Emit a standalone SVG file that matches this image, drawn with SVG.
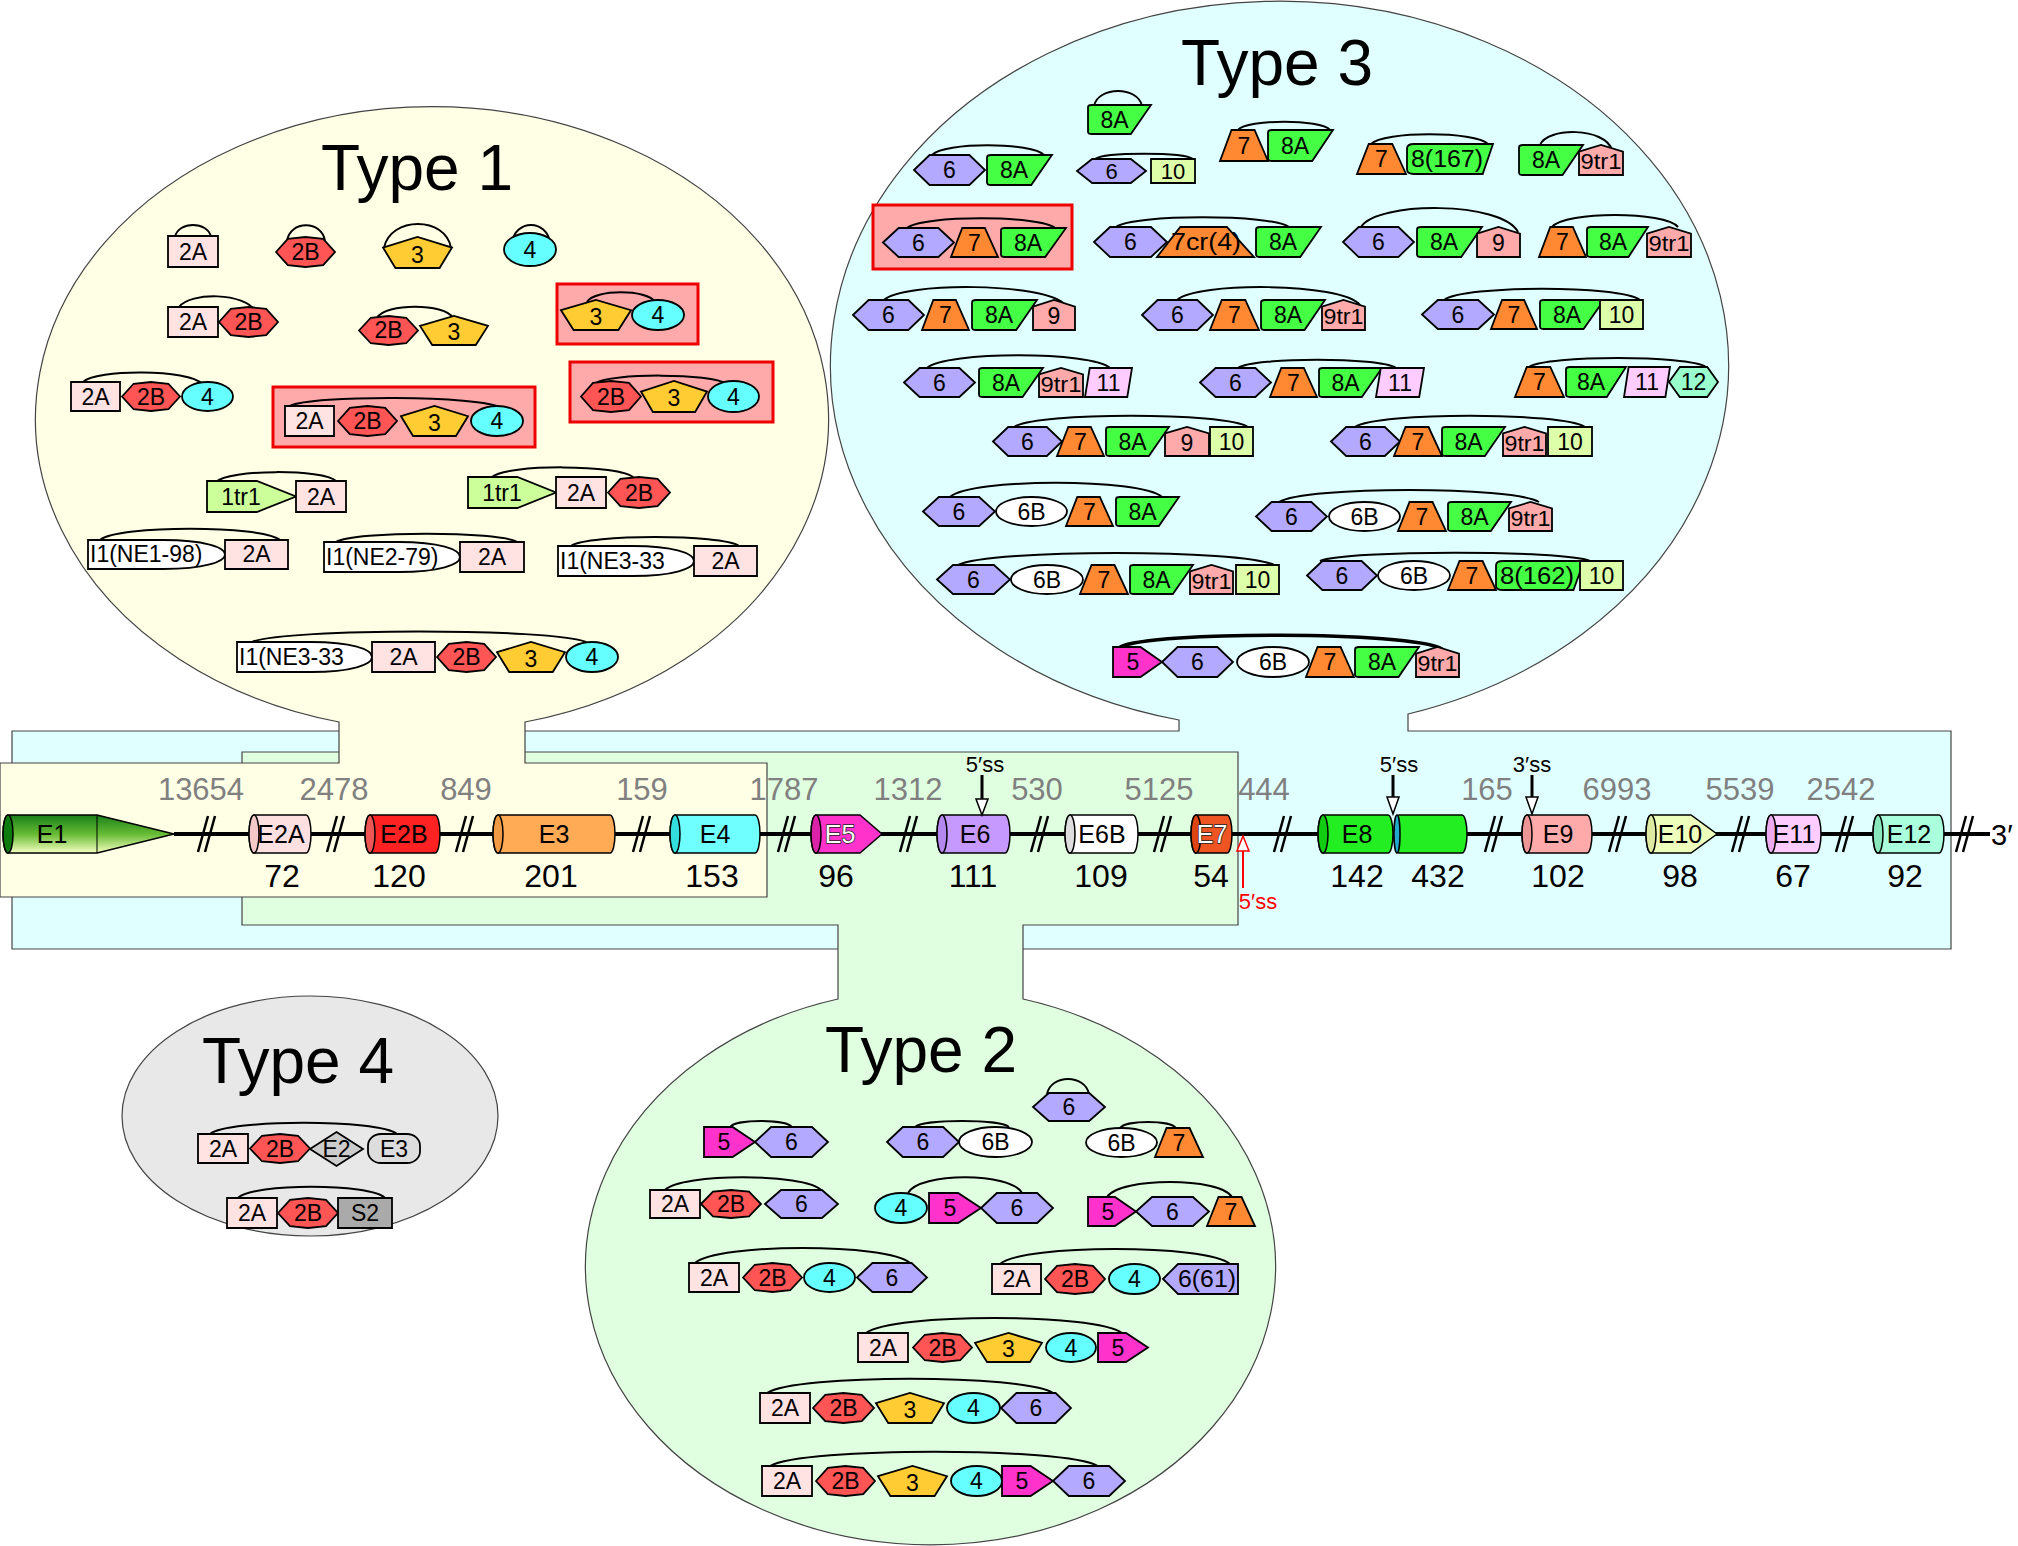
<svg xmlns="http://www.w3.org/2000/svg" xmlns:xlink="http://www.w3.org/1999/xlink" width="2018" height="1546" viewBox="0 0 2018 1546">
<style>
text{font-family:"Liberation Sans",Arial,sans-serif;text-anchor:middle;fill:#000}
.t{font-size:23px}
.sm{font-size:22px}
.xs{font-size:22px}
.title{font-size:64px}
.gn{font-size:31px;fill:#808080}
.bn{font-size:32px}
.el{font-size:25px}
.ss{font-size:22px}
.wl{fill:#fff;stroke:#222;stroke-width:1.4px;paint-order:stroke}
use{stroke:#000;stroke-width:1.8}
.c2A{fill:#ffe2e2}.c2B{fill:#ff5555}.c3{fill:#ffcc33}.c4{fill:#66ffff}.c5{fill:#ff33cc}.c6{fill:#b3aaff}.c6B{fill:#fff}.c7{fill:#ff8833}.c8{fill:#44ff44}.c9{fill:#ffaaaa}.c10{fill:#ddffaa}.c11{fill:#ffccff}.c12{fill:#99ffcc}.c1t{fill:#ccff99}.cI{fill:#fff}.cE2{fill:#cccccc}.cE3{fill:#dddddd}.cS2{fill:#aaaaaa}
.rb{fill:#ffaaaa;stroke:#e00;stroke-width:3}
.bub{stroke:#444;stroke-width:1.2}
.arc{fill:none;stroke:#000;stroke-width:2}
.ex{stroke:#000;stroke-width:1.5}
.brk{stroke:#000;stroke-width:2.5}
</style>
<defs>
<linearGradient id="gE1" x1="0" y1="0" x2="0" y2="1"><stop offset="0" stop-color="#1a7f1a"/><stop offset="0.5" stop-color="#66bb33"/><stop offset="1" stop-color="#f4ffc0"/></linearGradient>
<symbol id="sR" viewBox="0 0 100 100" preserveAspectRatio="none" overflow="visible"><rect width="100" height="100" vector-effect="non-scaling-stroke"/></symbol>
<symbol id="sOct" viewBox="0 0 100 100" preserveAspectRatio="none" overflow="visible"><polygon points="0,50 20,6 50,0 80,6 100,50 80,94 50,100 20,94" vector-effect="non-scaling-stroke"/></symbol>
<symbol id="sPent" viewBox="0 0 100 100" preserveAspectRatio="none" overflow="visible"><polygon points="0,34 50,0 100,34 82,100 18,100" vector-effect="non-scaling-stroke"/></symbol>
<symbol id="sEll" viewBox="0 0 100 100" preserveAspectRatio="none" overflow="visible"><ellipse cx="50" cy="50" rx="50" ry="50" vector-effect="non-scaling-stroke"/></symbol>
<symbol id="sArr" viewBox="0 0 100 100" preserveAspectRatio="none" overflow="visible"><polygon points="0,0 56,0 100,50 56,100 0,100" vector-effect="non-scaling-stroke"/></symbol>
<symbol id="sHex" viewBox="0 0 100 100" preserveAspectRatio="none" overflow="visible"><polygon points="0,50 22,0 78,0 100,50 78,100 22,100" vector-effect="non-scaling-stroke"/></symbol>
<symbol id="sTrap" viewBox="0 0 100 100" preserveAspectRatio="none" overflow="visible"><polygon points="24,0 72,0 100,100 0,100" vector-effect="non-scaling-stroke"/></symbol>
<symbol id="s8A" viewBox="0 0 100 100" preserveAspectRatio="none" overflow="visible"><path d="M6,0 H100 L68,100 H6 Q0,100 0,92 V8 Q0,0 6,0 Z" vector-effect="non-scaling-stroke"/></symbol>
<symbol id="s8L" viewBox="0 0 100 100" preserveAspectRatio="none" overflow="visible"><path d="M8,0 H100 L88,100 H8 Q0,100 0,85 V15 Q0,0 8,0 Z" vector-effect="non-scaling-stroke"/></symbol>
<symbol id="sHouse" viewBox="0 0 100 100" preserveAspectRatio="none" overflow="visible"><polygon points="0,22 50,0 100,22 100,100 0,100" vector-effect="non-scaling-stroke"/></symbol>
<symbol id="sPar" viewBox="0 0 100 100" preserveAspectRatio="none" overflow="visible"><polygon points="10,0 100,0 90,100 0,100" vector-effect="non-scaling-stroke"/></symbol>
<symbol id="sI1" viewBox="0 0 100 100" preserveAspectRatio="none" overflow="visible"><path d="M0,0 H55 C85,0 100,25 100,50 C100,75 85,100 55,100 H0 Z" vector-effect="non-scaling-stroke"/></symbol>
<symbol id="s6L" viewBox="0 0 100 100" preserveAspectRatio="none" overflow="visible"><polygon points="0,50 20,0 100,0 100,100 20,100" vector-effect="non-scaling-stroke"/></symbol>
<symbol id="sDia" viewBox="0 0 100 100" preserveAspectRatio="none" overflow="visible"><polygon points="50,0 100,50 50,100 0,50" vector-effect="non-scaling-stroke"/></symbol>
<symbol id="sRnd" viewBox="0 0 100 100" preserveAspectRatio="none" overflow="visible"><rect width="100" height="100" rx="25" ry="40" vector-effect="non-scaling-stroke"/></symbol>
</defs>

<rect width="2018" height="1546" fill="#fff"/>

<g id="bubbles">
<path id="type3-bg" class="bub" fill="#e0ffff" d="M12,731 H1179 V720 A449,364 0 1 1 1408,714 V731 H1951 V949 H12 Z"/>
<path id="type2-bg" class="bub" fill="#e0ffe0" d="M242,752 H1238 V925 H1023 V999 A345,278 0 1 1 838,999 V925 H242 Z"/>
<path id="type1-bg" class="bub" fill="#ffffe6" d="M0,763 H339 V722 A396.5,312 0 1 1 525,722 V763 H767 V897 H0 Z"/>
<ellipse id="type4-bg" class="bub" fill="#e8e8e8" cx="310" cy="1116" rx="188" ry="120"/>
</g>

<g id="titles">
<text class="title" x="417" y="190">Type 1</text>
<text class="title" x="1277" y="85">Type 3</text>
<text class="title" x="921" y="1072">Type 2</text>
<text class="title" x="298" y="1083">Type 4</text>
</g>

<g id="gene">
<line x1="174" y1="834" x2="1990" y2="834" stroke="#000" stroke-width="4"/>
<g id="breaks">
<path class="brk" d="M198,852 L208,816 M205,852 L215,816 M327,852 L337,816 M334,852 L344,816 M456,852 L466,816 M463,852 L473,816 M633,852 L643,816 M640,852 L650,816 M778,852 L788,816 M785,852 L795,816 M900,852 L910,816 M907,852 L917,816 M1031,852 L1041,816 M1038,852 L1048,816 M1154,852 L1164,816 M1161,852 L1171,816 M1274,852 L1284,816 M1281,852 L1291,816 M1485,852 L1495,816 M1492,852 L1502,816 M1609,852 L1619,816 M1616,852 L1626,816 M1732,852 L1742,816 M1739,852 L1749,816 M1836,852 L1846,816 M1843,852 L1853,816 M1956,852 L1966,816 M1963,852 L1973,816"/>
</g>
<g id="E1"><path class="ex" fill="url(#gE1)" d="M8,815 H97 L174,834 L97,853 H8 A5,19 0 0 1 8,815 Z"/><line x1="97" y1="815" x2="97" y2="853" stroke="#000" stroke-width="1"/><ellipse class="ex" fill="#0d7a0d" cx="8" cy="834" rx="5" ry="19"/><text class="el" x="52" y="843">E1</text></g>
<g id="E2A"><path class="ex" fill="#ffe0e0" d="M254,815 H306 A5,19 0 0 1 306,853 H254 A5,19 0 0 1 254,815 Z"/><ellipse class="ex" fill="#f5c8c8" cx="254" cy="834" rx="5" ry="19"/><text class="el" x="281" y="843">E2A</text></g>
<g id="E2B"><path class="ex" fill="#ff2222" d="M370,815 H435 A5,19 0 0 1 435,853 H370 A5,19 0 0 1 370,815 Z"/><ellipse class="ex" fill="#ee5555" cx="370" cy="834" rx="5" ry="19"/><text class="el" x="404" y="843">E2B</text></g>
<g id="E3"><path class="ex" fill="#ffaa55" d="M498,815 H610 A5,19 0 0 1 610,853 H498 A5,19 0 0 1 498,815 Z"/><ellipse class="ex" fill="#f09a45" cx="498" cy="834" rx="5" ry="19"/><text class="el" x="554" y="843">E3</text></g>
<g id="E4"><path class="ex" fill="#70ffff" d="M675,815 H755 A5,19 0 0 1 755,853 H675 A5,19 0 0 1 675,815 Z"/><ellipse class="ex" fill="#33dddd" cx="675" cy="834" rx="5" ry="19"/><text class="el" x="715" y="843">E4</text></g>
<g id="E5"><path class="ex" fill="#ff33cc" d="M816,815 H860 L882,834 L860,853 H816 A5,19 0 0 1 816,815 Z"/><ellipse class="ex" fill="#dd22aa" cx="816" cy="834" rx="5" ry="19"/><text class="el wl" x="840" y="843">E5</text></g>
<g id="E6"><path class="ex" fill="#c699ff" d="M942,815 H1005 A5,19 0 0 1 1005,853 H942 A5,19 0 0 1 942,815 Z"/><ellipse class="ex" fill="#b588ee" cx="942" cy="834" rx="5" ry="19"/><text class="el" x="975" y="843">E6</text></g>
<g id="E6B"><path class="ex" fill="#fff" d="M1070,815 H1133 A5,19 0 0 1 1133,853 H1070 A5,19 0 0 1 1070,815 Z"/><ellipse class="ex" fill="#dddddd" cx="1070" cy="834" rx="5" ry="19"/><text class="el" x="1102" y="843">E6B</text></g>
<g id="E7"><path class="ex" fill="#ee5522" d="M1196,815 H1227 A5,19 0 0 1 1227,853 H1196 A5,19 0 0 1 1196,815 Z"/><ellipse class="ex" fill="#dd4411" cx="1196" cy="834" rx="5" ry="19"/><text class="el wl" x="1212" y="843">E7</text></g>
<g id="E8"><path class="ex" fill="#22ee22" d="M1323,815 H1388 A5,19 0 0 1 1388,853 H1323 A5,19 0 0 1 1323,815 Z"/><ellipse class="ex" fill="#11cc11" cx="1323" cy="834" rx="5" ry="19"/><text class="el" x="1357" y="843">E8</text>
<path class="ex" fill="#22ee22" d="M1399,815 H1462 A5,19 0 0 1 1462,853 H1399 A5,19 0 0 1 1399,815 Z"/><ellipse class="ex" fill="#22aacc" cx="1397" cy="834" rx="3" ry="19"/></g>
<g id="E9"><path class="ex" fill="#ffaaaa" d="M1527,815 H1587 A5,19 0 0 1 1587,853 H1527 A5,19 0 0 1 1527,815 Z"/><ellipse class="ex" fill="#ee9595" cx="1527" cy="834" rx="5" ry="19"/><text class="el" x="1558" y="843">E9</text></g>
<g id="E10"><path class="ex" fill="#eeffbb" d="M1651,815 H1691 L1717,834 L1691,853 H1651 A5,19 0 0 1 1651,815 Z"/><ellipse class="ex" fill="#dde8a0" cx="1651" cy="834" rx="5" ry="19"/><text class="el" x="1680" y="843">E10</text></g>
<g id="E11"><path class="ex" fill="#ffccff" d="M1771,815 H1816 A5,19 0 0 1 1816,853 H1771 A5,19 0 0 1 1771,815 Z"/><ellipse class="ex" fill="#eeaaee" cx="1771" cy="834" rx="5" ry="19"/><text class="el" x="1794" y="843">E11</text></g>
<g id="E12"><path class="ex" fill="#aaffdd" d="M1878,815 H1939 A5,19 0 0 1 1939,853 H1878 A5,19 0 0 1 1878,815 Z"/><ellipse class="ex" fill="#88e8bb" cx="1878" cy="834" rx="5" ry="19"/><text class="el" x="1909" y="843">E12</text></g>
<text class="bn" x="1991" y="845" style="font-size:29px;text-anchor:start">3′</text>
<g id="intron-lengths">
<text class="gn" x="201" y="800">13654</text>
<text class="gn" x="334" y="800">2478</text>
<text class="gn" x="466" y="800">849</text>
<text class="gn" x="642" y="800">159</text>
<text class="gn" x="784" y="800">1787</text>
<text class="gn" x="908" y="800">1312</text>
<text class="gn" x="1037" y="800">530</text>
<text class="gn" x="1159" y="800">5125</text>
<text class="gn" x="1264" y="800">444</text>
<text class="gn" x="1487" y="800">165</text>
<text class="gn" x="1617" y="800">6993</text>
<text class="gn" x="1740" y="800">5539</text>
<text class="gn" x="1841" y="800">2542</text>
</g>
<g id="exon-lengths">
<text class="bn" x="282" y="887">72</text>
<text class="bn" x="399" y="887">120</text>
<text class="bn" x="551" y="887">201</text>
<text class="bn" x="712" y="887">153</text>
<text class="bn" x="836" y="887">96</text>
<text class="bn" x="973" y="887">111</text>
<text class="bn" x="1101" y="887">109</text>
<text class="bn" x="1211" y="887">54</text>
<text class="bn" x="1357" y="887">142</text>
<text class="bn" x="1438" y="887">432</text>
<text class="bn" x="1558" y="887">102</text>
<text class="bn" x="1680" y="887">98</text>
<text class="bn" x="1793" y="887">67</text>
<text class="bn" x="1905" y="887">92</text>
</g>
<g id="splice-sites">
<text class="ss" x="985" y="772">5′ss</text>
<line x1="982" y1="775" x2="982" y2="799" stroke="#000" stroke-width="3"/><polygon points="976,799 988,799 982,815" fill="#fff" stroke="#000" stroke-width="1.5"/>
<text class="ss" x="1399" y="772">5′ss</text>
<line x1="1393" y1="775" x2="1393" y2="797" stroke="#000" stroke-width="3"/><polygon points="1387,797 1399,797 1393,814" fill="#fff" stroke="#000" stroke-width="1.5"/>
<text class="ss" x="1532" y="772">3′ss</text>
<line x1="1532" y1="775" x2="1532" y2="797" stroke="#000" stroke-width="3"/><polygon points="1526,797 1538,797 1532,814" fill="#fff" stroke="#000" stroke-width="1.5"/>
<line x1="1243" y1="851" x2="1243" y2="888" stroke="#f00" stroke-width="2"/><polygon points="1237,851 1249,851 1243,836" fill="#fff" stroke="#f00" stroke-width="1.5"/>
<text class="ss" x="1258" y="909" style="fill:#f00">5′ss</text>
</g>
</g>

<g id="red-boxes">
<rect class="rb" x="557" y="284" width="141" height="60"/>
<rect class="rb" x="273" y="387" width="262" height="60"/>
<rect class="rb" x="570" y="362" width="203" height="60"/>
<rect class="rb" x="873" y="205" width="199" height="64"/>
</g>

<g id="connectors">
<path class="arc" d="M175,237 C178,221 208,221 211,237"/>
<path class="arc" d="M287,241 C290,220 322,220 325,241"/>
<path class="arc" d="M384,248 C390,216 446,216 451,248"/>
<path class="arc" d="M512,243 C515,219 547,219 550,243"/>
<path class="arc" d="M179,307 C190,292 245,292 256,312"/>
<path class="arc" d="M377,318 C385,303 445,303 453,318"/>
<path class="arc" d="M587,302 C594,289 648,289 655,302"/>
<path class="arc" d="M83,382 C95,369 190,369 202,384"/>
<path class="arc" d="M290,406 C311,395 481,395 502,408"/>
<path class="arc" d="M596,383 C609,373 713,373 726,384"/>
<path class="arc" d="M216,482 C228,469 324,469 336,481"/>
<path class="arc" d="M492,477 C506,464 620,464 634,478"/>
<path class="arc" d="M100,540 C118,525 262,525 280,540"/>
<path class="arc" d="M336,542 C354,531 499,531 517,542"/>
<path class="arc" d="M571,546 C588,534 722,534 739,546"/>
<path class="arc" d="M252,642 C285,628 553,628 586,642"/>
<path class="arc" d="M1094,106 C1098,86 1138,86 1142,106"/>
<path class="arc" d="M932,155 C943,142 1033,142 1044,155"/>
<path class="arc" d="M1095,159 C1105,152 1183,152 1193,159"/>
<path class="arc" d="M1238,130 C1247,119 1321,119 1330,130"/>
<path class="arc" d="M1371,144 C1383,131 1476,131 1488,144"/>
<path class="arc" d="M1540,145 C1547,127 1605,127 1612,150"/>
<path class="arc" d="M907,228 C922,215 1040,215 1055,228"/>
<path class="arc" d="M1116,227 C1133,214 1272,214 1289,227"/>
<path class="arc" d="M1361,227 C1377,201 1502,201 1518,232"/>
<path class="arc" d="M1552,227 C1565,211 1665,211 1678,227"/>
<path class="arc" d="M884,300 C902,282 1047,282 1065,305"/>
<path class="arc" d="M1177,300 C1195,282 1342,282 1360,305"/>
<path class="arc" d="M1444,300 C1464,285 1620,285 1640,300"/>
<path class="arc" d="M927,368 C945,351 1092,351 1110,368"/>
<path class="arc" d="M1238,368 C1254,357 1380,357 1396,368"/>
<path class="arc" d="M1529,367 C1547,355 1688,355 1706,367"/>
<path class="arc" d="M1014,427 C1037,412 1225,412 1248,427"/>
<path class="arc" d="M1355,427 C1378,412 1562,412 1585,427"/>
<path class="arc" d="M950,497 C971,478 1141,478 1162,497"/>
<path class="arc" d="M1279,502 C1305,486 1513,486 1539,502"/>
<path class="arc" d="M958,565 C990,549 1242,549 1274,565"/>
<path class="arc" d="M1320,561 C1347,550 1563,550 1590,561"/>
<path class="arc" style="stroke-width:3.5" d="M1120,647 C1152,631 1410,631 1442,649"/>
<path class="arc" d="M1047,1094 C1051,1074 1085,1074 1089,1094"/>
<path class="arc" d="M730,1127 C736,1119 786,1119 792,1127"/>
<path class="arc" d="M915,1127 C924,1119 1000,1119 1009,1127"/>
<path class="arc" d="M1120,1128 C1126,1120 1170,1120 1176,1128"/>
<path class="arc" d="M665,1190 C681,1173 805,1173 821,1190"/>
<path class="arc" d="M908,1193 C919,1172 1011,1172 1022,1193"/>
<path class="arc" d="M1107,1197 C1120,1177 1220,1177 1232,1197"/>
<path class="arc" d="M695,1263 C717,1243 888,1243 910,1263"/>
<path class="arc" d="M1000,1264 C1023,1244 1207,1244 1230,1264"/>
<path class="arc" d="M866,1333 C892,1313 1096,1313 1122,1333"/>
<path class="arc" d="M767,1393 C796,1374 1024,1374 1053,1393"/>
<path class="arc" d="M770,1466 C803,1447 1065,1447 1098,1466"/>
<path class="arc" d="M210,1134 C229,1119 378,1119 397,1134"/>
<path class="arc" d="M238,1198 C253,1183 370,1183 385,1198"/>
</g>

<g id="type1">
<g id="t1-2A"><use href="#sR" class="c2A" x="168" y="236" width="50" height="31"/><text class="t" x="193" y="260">2A</text></g>
<g id="t1-2B"><use href="#sOct" class="c2B" x="276" y="237" width="59" height="30"/><text class="t" x="305.5" y="260">2B</text></g>
<g id="t1-3"><use href="#sPent" class="c3" x="383" y="237" width="69" height="31"/><text class="t" x="417.5" y="263">3</text></g>
<g id="t1-4"><use href="#sEll" class="c4" x="504" y="233" width="52" height="33"/><text class="t" x="530" y="258">4</text></g>
<g id="t1-2A-2B"><use href="#sR" class="c2A" x="168" y="307" width="50" height="30"/><use href="#sOct" class="c2B" x="219" y="307" width="59" height="30"/><text class="t" x="193" y="330">2A</text><text class="t" x="248.5" y="330">2B</text></g>
<g id="t1-2B-3"><use href="#sOct" class="c2B" x="359" y="316" width="59" height="29"/><use href="#sPent" class="c3" x="420" y="316" width="68" height="29"/><text class="t" x="388.5" y="338">2B</text><text class="t" x="454" y="340">3</text></g>
<g id="t1-3-4"><use href="#sPent" class="c3" x="561" y="300" width="70" height="30"/><use href="#sEll" class="c4" x="632" y="300" width="52" height="30"/><text class="t" x="596" y="325">3</text><text class="t" x="658" y="323">4</text></g>
<g id="t1-2A-2B-4"><use href="#sR" class="c2A" x="71" y="382" width="49" height="29"/><use href="#sOct" class="c2B" x="122" y="382" width="58" height="29"/><use href="#sEll" class="c4" x="182" y="382" width="51" height="29"/><text class="t" x="95.5" y="404.5">2A</text><text class="t" x="151" y="404.5">2B</text><text class="t" x="207.5" y="404.5">4</text></g>
<g id="t1-2A-2B-3-4"><use href="#sR" class="c2A" x="285" y="406" width="49" height="30"/><use href="#sOct" class="c2B" x="338" y="406" width="59" height="30"/><use href="#sPent" class="c3" x="401" y="406" width="67" height="30"/><use href="#sEll" class="c4" x="471" y="406" width="52" height="30"/><text class="t" x="309.5" y="429">2A</text><text class="t" x="367.5" y="429">2B</text><text class="t" x="434.5" y="431">3</text><text class="t" x="497" y="429">4</text></g>
<g id="t1-2B-3-4"><use href="#sOct" class="c2B" x="581" y="381" width="60" height="31"/><use href="#sPent" class="c3" x="641" y="381" width="66" height="31"/><use href="#sEll" class="c4" x="708" y="381" width="51" height="31"/><text class="t" x="611" y="404.5">2B</text><text class="t" x="674" y="406">3</text><text class="t" x="733.5" y="404.5">4</text></g>
<g id="t1-1tr1-2A"><use href="#sArr" class="c1t" x="207" y="481" width="89" height="31"/><use href="#sR" class="c2A" x="296" y="481" width="50" height="31"/><text class="t" x="241" y="504.5">1tr1</text><text class="t" x="321" y="504.5">2A</text></g>
<g id="t1-1tr1-2A-2B"><use href="#sArr" class="c1t" x="468" y="477" width="88" height="31"/><use href="#sR" class="c2A" x="556" y="477" width="50" height="31"/><use href="#sOct" class="c2B" x="608" y="477" width="62" height="31"/><text class="t" x="502" y="500.5">1tr1</text><text class="t" x="581" y="500.5">2A</text><text class="t" x="639" y="500.5">2B</text></g>
<g id="t1-I1NE1-2A"><use href="#sI1" class="cI" x="88" y="540" width="137" height="29"/><use href="#sR" class="c2A" x="225" y="540" width="63" height="29"/><text class="t" x="90" y="562" style="text-anchor:start">I1(NE1-98)</text><text class="t" x="256.5" y="562">2A</text></g>
<g id="t1-I1NE2-2A"><use href="#sI1" class="cI" x="324" y="542" width="136" height="30"/><use href="#sR" class="c2A" x="460" y="542" width="64" height="30"/><text class="t" x="326" y="565" style="text-anchor:start">I1(NE2-79)</text><text class="t" x="492" y="565">2A</text></g>
<g id="t1-I1NE3-2A"><use href="#sI1" class="cI" x="558" y="546" width="136" height="30"/><use href="#sR" class="c2A" x="694" y="546" width="63" height="30"/><text class="t" x="560" y="569" style="text-anchor:start">I1(NE3-33</text><text class="t" x="725.5" y="569">2A</text></g>
<g id="t1-I1NE3-2A-2B-3-4"><use href="#sI1" class="cI" x="237" y="642" width="135" height="30"/><use href="#sR" class="c2A" x="372" y="642" width="63" height="30"/><use href="#sOct" class="c2B" x="437" y="642" width="59" height="30"/><use href="#sPent" class="c3" x="497" y="642" width="68" height="30"/><use href="#sEll" class="c4" x="566" y="642" width="52" height="30"/><text class="t" x="239" y="665" style="text-anchor:start">I1(NE3-33</text><text class="t" x="403.5" y="665">2A</text><text class="t" x="466.5" y="665">2B</text><text class="t" x="531" y="667">3</text><text class="t" x="592" y="665">4</text></g>
</g>

<g id="type3">
<g id="t3-8A"><use href="#s8A" class="c8" x="1088" y="105" width="63" height="29"/><text class="t" x="1114.5" y="127.5">8A</text></g>
<g id="t3-6-8A"><use href="#sHex" class="c6" x="914" y="155" width="71" height="30"/><use href="#s8A" class="c8" x="987" y="155" width="65" height="30"/><text class="t" x="949.5" y="178">6</text><text class="t" x="1014" y="178">8A</text></g>
<g id="t3-6-10"><use href="#sHex" class="c6" x="1077" y="159" width="69" height="24"/><use href="#sR" class="c10" x="1151" y="159" width="44" height="24"/><text class="sm" x="1111.5" y="179">6</text><text class="sm" x="1173" y="179">10</text></g>
<g id="t3-7-8A"><use href="#sTrap" class="c7" x="1220" y="130" width="48" height="31"/><use href="#s8A" class="c8" x="1268" y="130" width="65" height="31"/><text class="t" x="1244" y="153.5">7</text><text class="t" x="1295" y="153.5">8A</text></g>
<g id="t3-7-8-167"><use href="#sTrap" class="c7" x="1357" y="144" width="49" height="30"/><use href="#s8L" class="c8" x="1407" y="144" width="86" height="30"/><text class="t" x="1381.5" y="167">7</text><text class="t" x="1447" y="167" textLength="72" lengthAdjust="spacingAndGlyphs">8(167)</text></g>
<g id="t3-8A-9tr1"><use href="#s8A" class="c8" x="1519" y="145" width="64" height="30"/><use href="#sHouse" class="c9" x="1579" y="145" width="44" height="30"/><text class="t" x="1546" y="168">8A</text><text class="xs" x="1601" y="169" textLength="41" lengthAdjust="spacingAndGlyphs">9tr1</text></g>
<g id="t3-6-7-8A-red"><use href="#sHex" class="c6" x="883" y="228" width="71" height="29"/><use href="#sTrap" class="c7" x="951" y="228" width="47" height="29"/><use href="#s8A" class="c8" x="1001" y="228" width="65" height="29"/><text class="t" x="918.5" y="250.5">6</text><text class="t" x="974.5" y="250.5">7</text><text class="t" x="1028" y="250.5">8A</text></g>
<g id="t3-6-7cr4-8A"><use href="#sHex" class="c6" x="1094" y="227" width="73" height="30"/><use href="#sTrap" class="c7" x="1157" y="227" width="97" height="30"/><use href="#s8A" class="c8" x="1256" y="227" width="65" height="30"/><text class="t" x="1130.5" y="250">6</text><text class="t" x="1206" y="250" textLength="70" lengthAdjust="spacingAndGlyphs">7cr(4)</text><text class="t" x="1283" y="250">8A</text></g>
<g id="t3-6-8A-9"><use href="#sHex" class="c6" x="1343" y="227" width="71" height="30"/><use href="#s8A" class="c8" x="1417" y="227" width="65" height="30"/><use href="#sHouse" class="c9" x="1477" y="227" width="43" height="30"/><text class="t" x="1378.5" y="250">6</text><text class="t" x="1444" y="250">8A</text><text class="t" x="1498.5" y="251">9</text></g>
<g id="t3-7-8A-9tr1"><use href="#sTrap" class="c7" x="1539" y="227" width="47" height="30"/><use href="#s8A" class="c8" x="1587" y="227" width="61" height="30"/><use href="#sHouse" class="c9" x="1647" y="227" width="44" height="30"/><text class="t" x="1562.5" y="250">7</text><text class="t" x="1613" y="250">8A</text><text class="xs" x="1669" y="251" textLength="41" lengthAdjust="spacingAndGlyphs">9tr1</text></g>
<g id="t3-6-7-8A-9"><use href="#sHex" class="c6" x="853" y="300" width="71" height="30"/><use href="#sTrap" class="c7" x="922" y="300" width="47" height="30"/><use href="#s8A" class="c8" x="972" y="300" width="65" height="30"/><use href="#sHouse" class="c9" x="1033" y="300" width="42" height="30"/><text class="t" x="888.5" y="323">6</text><text class="t" x="945.5" y="323">7</text><text class="t" x="999" y="323">8A</text><text class="t" x="1054" y="324">9</text></g>
<g id="t3-6-7-8A-9tr1"><use href="#sHex" class="c6" x="1142" y="300" width="71" height="30"/><use href="#sTrap" class="c7" x="1210" y="300" width="49" height="30"/><use href="#s8A" class="c8" x="1261" y="300" width="64" height="30"/><use href="#sHouse" class="c9" x="1322" y="300" width="43" height="30"/><text class="t" x="1177.5" y="323">6</text><text class="t" x="1234.5" y="323">7</text><text class="t" x="1288" y="323">8A</text><text class="xs" x="1343.5" y="324" textLength="40" lengthAdjust="spacingAndGlyphs">9tr1</text></g>
<g id="t3-6-7-8A-10"><use href="#sHex" class="c6" x="1422" y="300" width="72" height="29"/><use href="#sTrap" class="c7" x="1491" y="300" width="46" height="29"/><use href="#s8A" class="c8" x="1540" y="300" width="64" height="29"/><use href="#sR" class="c10" x="1600" y="300" width="43" height="29"/><text class="t" x="1458" y="322.5">6</text><text class="t" x="1514" y="322.5">7</text><text class="t" x="1567" y="322.5">8A</text><text class="t" x="1621.5" y="322.5">10</text></g>
<g id="t3-6-8A-9tr1-11"><use href="#sHex" class="c6" x="904" y="368" width="71" height="29"/><use href="#s8A" class="c8" x="979" y="368" width="64" height="29"/><use href="#sHouse" class="c9" x="1039" y="368" width="44" height="29"/><use href="#sPar" class="c11" x="1085" y="368" width="47" height="29"/><text class="t" x="939.5" y="390.5">6</text><text class="t" x="1006" y="390.5">8A</text><text class="xs" x="1061" y="391.5" textLength="41" lengthAdjust="spacingAndGlyphs">9tr1</text><text class="t" x="1108.5" y="390.5">11</text></g>
<g id="t3-6-7-8A-11"><use href="#sHex" class="c6" x="1200" y="368" width="71" height="29"/><use href="#sTrap" class="c7" x="1270" y="368" width="47" height="29"/><use href="#s8A" class="c8" x="1319" y="368" width="63" height="29"/><use href="#sPar" class="c11" x="1376" y="368" width="48" height="29"/><text class="t" x="1235.5" y="390.5">6</text><text class="t" x="1293.5" y="390.5">7</text><text class="t" x="1345.5" y="390.5">8A</text><text class="t" x="1400" y="390.5">11</text></g>
<g id="t3-7-8A-11-12"><use href="#sTrap" class="c7" x="1515" y="367" width="49" height="30"/><use href="#s8A" class="c8" x="1566" y="367" width="60" height="30"/><use href="#sPar" class="c11" x="1624" y="367" width="46" height="30"/><use href="#sHex" class="c12" x="1669" y="367" width="49" height="30"/><text class="t" x="1539.5" y="390">7</text><text class="t" x="1591" y="390">8A</text><text class="t" x="1647" y="390">11</text><text class="t" x="1693.5" y="390">12</text></g>
<g id="t3-6-7-8A-9-10"><use href="#sHex" class="c6" x="993" y="427" width="69" height="29"/><use href="#sTrap" class="c7" x="1057" y="427" width="47" height="29"/><use href="#s8A" class="c8" x="1106" y="427" width="63" height="29"/><use href="#sHouse" class="c9" x="1165" y="427" width="44" height="29"/><use href="#sR" class="c10" x="1210" y="427" width="43" height="29"/><text class="t" x="1027.5" y="449.5">6</text><text class="t" x="1080.5" y="449.5">7</text><text class="t" x="1132.5" y="449.5">8A</text><text class="t" x="1187" y="450.5">9</text><text class="t" x="1231.5" y="449.5">10</text></g>
<g id="t3-6-7-8A-9tr1-10"><use href="#sHex" class="c6" x="1331" y="427" width="69" height="29"/><use href="#sTrap" class="c7" x="1394" y="427" width="48" height="29"/><use href="#s8A" class="c8" x="1442" y="427" width="63" height="29"/><use href="#sHouse" class="c9" x="1503" y="427" width="43" height="29"/><use href="#sR" class="c10" x="1548" y="427" width="44" height="29"/><text class="t" x="1365.5" y="449.5">6</text><text class="t" x="1418" y="449.5">7</text><text class="t" x="1468.5" y="449.5">8A</text><text class="xs" x="1524.5" y="450.5" textLength="40" lengthAdjust="spacingAndGlyphs">9tr1</text><text class="t" x="1570" y="449.5">10</text></g>
<g id="t3-6-6B-7-8A"><use href="#sHex" class="c6" x="923" y="497" width="72" height="29"/><use href="#sEll" class="c6B" x="996" y="497" width="71" height="29"/><use href="#sTrap" class="c7" x="1066" y="497" width="47" height="29"/><use href="#s8A" class="c8" x="1116" y="497" width="63" height="29"/><text class="t" x="959" y="519.5">6</text><text class="t" x="1031.5" y="519.5">6B</text><text class="t" x="1089.5" y="519.5">7</text><text class="t" x="1142.5" y="519.5">8A</text></g>
<g id="t3-6-6B-7-8A-9tr1"><use href="#sHex" class="c6" x="1256" y="502" width="71" height="29"/><use href="#sEll" class="c6B" x="1329" y="502" width="71" height="29"/><use href="#sTrap" class="c7" x="1398" y="502" width="48" height="29"/><use href="#s8A" class="c8" x="1448" y="502" width="63" height="29"/><use href="#sHouse" class="c9" x="1509" y="502" width="43" height="29"/><text class="t" x="1291.5" y="524.5">6</text><text class="t" x="1364.5" y="524.5">6B</text><text class="t" x="1422" y="524.5">7</text><text class="t" x="1474.5" y="524.5">8A</text><text class="xs" x="1530.5" y="525.5" textLength="40" lengthAdjust="spacingAndGlyphs">9tr1</text></g>
<g id="t3-6-6B-7-8A-9tr1-10"><use href="#sHex" class="c6" x="937" y="565" width="73" height="29"/><use href="#sEll" class="c6B" x="1011" y="565" width="72" height="29"/><use href="#sTrap" class="c7" x="1080" y="565" width="48" height="29"/><use href="#s8A" class="c8" x="1130" y="565" width="63" height="29"/><use href="#sHouse" class="c9" x="1190" y="565" width="43" height="29"/><use href="#sR" class="c10" x="1236" y="565" width="43" height="29"/><text class="t" x="973.5" y="587.5">6</text><text class="t" x="1047" y="587.5">6B</text><text class="t" x="1104" y="587.5">7</text><text class="t" x="1156.5" y="587.5">8A</text><text class="xs" x="1211.5" y="588.5" textLength="40" lengthAdjust="spacingAndGlyphs">9tr1</text><text class="t" x="1257.5" y="587.5">10</text></g>
<g id="t3-6-6B-7-8-162-10"><use href="#sHex" class="c6" x="1307" y="561" width="70" height="29"/><use href="#sEll" class="c6B" x="1378" y="561" width="72" height="29"/><use href="#sTrap" class="c7" x="1448" y="561" width="48" height="29"/><use href="#s8L" class="c8" x="1496" y="561" width="88" height="29"/><use href="#sR" class="c10" x="1580" y="561" width="43" height="29"/><text class="t" x="1342" y="583.5">6</text><text class="t" x="1414" y="583.5">6B</text><text class="t" x="1472" y="583.5">7</text><text class="t" x="1537" y="583.5" textLength="74" lengthAdjust="spacingAndGlyphs">8(162)</text><text class="t" x="1601.5" y="583.5">10</text></g>
<g id="t3-5-6-6B-7-8A-9tr1"><use href="#sArr" class="c5" x="1113" y="647" width="49" height="30"/><use href="#sHex" class="c6" x="1162" y="647" width="71" height="30"/><use href="#sEll" class="c6B" x="1237" y="647" width="72" height="30"/><use href="#sTrap" class="c7" x="1306" y="647" width="48" height="30"/><use href="#s8A" class="c8" x="1355" y="647" width="64" height="30"/><use href="#sHouse" class="c9" x="1416" y="647" width="43" height="30"/><text class="t" x="1133" y="670">5</text><text class="t" x="1197.5" y="670">6</text><text class="t" x="1273" y="670">6B</text><text class="t" x="1330" y="670">7</text><text class="t" x="1382" y="670">8A</text><text class="xs" x="1437.5" y="671" textLength="40" lengthAdjust="spacingAndGlyphs">9tr1</text></g>
</g>

<g id="type2">
<g id="t2-6"><use href="#sHex" class="c6" x="1033" y="1093" width="72" height="28"/><text class="t" x="1069" y="1115">6</text></g>
<g id="t2-5-6"><use href="#sArr" class="c5" x="704" y="1127" width="51" height="30"/><use href="#sHex" class="c6" x="755" y="1127" width="73" height="30"/><text class="t" x="724" y="1150">5</text><text class="t" x="791.5" y="1150">6</text></g>
<g id="t2-6-6B"><use href="#sHex" class="c6" x="887" y="1127" width="72" height="30"/><use href="#sEll" class="c6B" x="959" y="1127" width="73" height="30"/><text class="t" x="923" y="1150">6</text><text class="t" x="995.5" y="1150">6B</text></g>
<g id="t2-6B-7"><use href="#sEll" class="c6B" x="1086" y="1128" width="71" height="29"/><use href="#sTrap" class="c7" x="1155" y="1128" width="48" height="29"/><text class="t" x="1121.5" y="1150.5">6B</text><text class="t" x="1179" y="1150.5">7</text></g>
<g id="t2-2A-2B-6"><use href="#sR" class="c2A" x="650" y="1190" width="50" height="28"/><use href="#sOct" class="c2B" x="701" y="1190" width="60" height="28"/><use href="#sHex" class="c6" x="765" y="1190" width="73" height="28"/><text class="t" x="675" y="1212">2A</text><text class="t" x="731" y="1212">2B</text><text class="t" x="801.5" y="1212">6</text></g>
<g id="t2-4-5-6"><use href="#sEll" class="c4" x="875" y="1193" width="52" height="30"/><use href="#sArr" class="c5" x="929" y="1193" width="52" height="30"/><use href="#sHex" class="c6" x="981" y="1193" width="72" height="30"/><text class="t" x="901" y="1216">4</text><text class="t" x="950" y="1216">5</text><text class="t" x="1017" y="1216">6</text></g>
<g id="t2-5-6-7"><use href="#sArr" class="c5" x="1088" y="1197" width="48" height="29"/><use href="#sHex" class="c6" x="1136" y="1197" width="73" height="29"/><use href="#sTrap" class="c7" x="1207" y="1197" width="48" height="29"/><text class="t" x="1108" y="1219.5">5</text><text class="t" x="1172.5" y="1219.5">6</text><text class="t" x="1231" y="1219.5">7</text></g>
<g id="t2-2A-2B-4-6"><use href="#sR" class="c2A" x="689" y="1263" width="50" height="29"/><use href="#sOct" class="c2B" x="743" y="1263" width="59" height="29"/><use href="#sEll" class="c4" x="804" y="1263" width="51" height="29"/><use href="#sHex" class="c6" x="857" y="1263" width="70" height="29"/><text class="t" x="714" y="1285.5">2A</text><text class="t" x="772.5" y="1285.5">2B</text><text class="t" x="829.5" y="1285.5">4</text><text class="t" x="892" y="1285.5">6</text></g>
<g id="t2-2A-2B-4-6-61"><use href="#sR" class="c2A" x="992" y="1264" width="49" height="30"/><use href="#sOct" class="c2B" x="1045" y="1264" width="60" height="30"/><use href="#sEll" class="c4" x="1109" y="1264" width="51" height="30"/><use href="#s6L" class="c6" x="1163" y="1264" width="75" height="30"/><text class="t" x="1016.5" y="1287">2A</text><text class="t" x="1075" y="1287">2B</text><text class="t" x="1134.5" y="1287">4</text><text class="t" x="1207" y="1287" textLength="58" lengthAdjust="spacingAndGlyphs">6(61)</text></g>
<g id="t2-2A-2B-3-4-5"><use href="#sR" class="c2A" x="858" y="1333" width="50" height="29"/><use href="#sOct" class="c2B" x="913" y="1333" width="59" height="29"/><use href="#sPent" class="c3" x="975" y="1333" width="67" height="29"/><use href="#sEll" class="c4" x="1046" y="1333" width="50" height="29"/><use href="#sArr" class="c5" x="1098" y="1333" width="50" height="29"/><text class="t" x="883" y="1355.5">2A</text><text class="t" x="942.5" y="1355.5">2B</text><text class="t" x="1008.5" y="1357">3</text><text class="t" x="1071" y="1355.5">4</text><text class="t" x="1118" y="1355.5">5</text></g>
<g id="t2-2A-2B-3-4-6"><use href="#sR" class="c2A" x="760" y="1393" width="50" height="30"/><use href="#sOct" class="c2B" x="813" y="1393" width="61" height="30"/><use href="#sPent" class="c3" x="876" y="1393" width="68" height="30"/><use href="#sEll" class="c4" x="947" y="1393" width="53" height="30"/><use href="#sHex" class="c6" x="1001" y="1393" width="70" height="30"/><text class="t" x="785" y="1416">2A</text><text class="t" x="843.5" y="1416">2B</text><text class="t" x="910" y="1418">3</text><text class="t" x="973.5" y="1416">4</text><text class="t" x="1036" y="1416">6</text></g>
<g id="t2-2A-2B-3-4-5-6"><use href="#sR" class="c2A" x="762" y="1466" width="50" height="30"/><use href="#sOct" class="c2B" x="816" y="1466" width="59" height="30"/><use href="#sPent" class="c3" x="878" y="1466" width="69" height="30"/><use href="#sEll" class="c4" x="951" y="1466" width="51" height="30"/><use href="#sArr" class="c5" x="1002" y="1466" width="51" height="30"/><use href="#sHex" class="c6" x="1053" y="1466" width="72" height="30"/><text class="t" x="787" y="1489">2A</text><text class="t" x="845.5" y="1489">2B</text><text class="t" x="912.5" y="1491">3</text><text class="t" x="976.5" y="1489">4</text><text class="t" x="1022" y="1489">5</text><text class="t" x="1089" y="1489">6</text></g>
</g>

<g id="type4">
<g id="t4-2A-2B-E2-E3"><use href="#sR" class="c2A" x="198" y="1134" width="50" height="29"/><use href="#sOct" class="c2B" x="250" y="1134" width="60" height="29"/><use href="#sDia" class="cE2" x="310" y="1132" width="53" height="34"/><use href="#sRnd" class="cE3" x="368" y="1134" width="52" height="29"/><text class="t" x="223" y="1156.5">2A</text><text class="t" x="280" y="1156.5">2B</text><text class="t" x="336.5" y="1157">E2</text><text class="t" x="394" y="1156.5">E3</text></g>
<g id="t4-2A-2B-S2"><use href="#sR" class="c2A" x="227" y="1198" width="50" height="30"/><use href="#sOct" class="c2B" x="278" y="1198" width="60" height="30"/><use href="#sR" class="cS2" x="338" y="1198" width="54" height="30"/><text class="t" x="252" y="1221">2A</text><text class="t" x="308" y="1221">2B</text><text class="t" x="365" y="1221">S2</text></g>
</g>
</svg>
